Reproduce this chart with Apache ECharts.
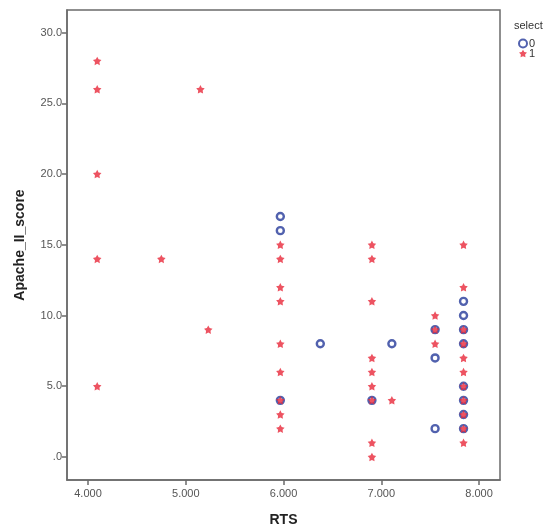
<!DOCTYPE html>
<html>
<head>
<meta charset="utf-8">
<script src="https://cdn.jsdelivr.net/npm/echarts@6/dist/echarts.min.js"></script>
<style>
  html, body { margin: 0; padding: 0; background: #fff; }
  #chart { width: 547px; height: 529px; }
</style>
</head>
<body>
<div id="chart"></div>
<script>
// select = 0 : [RTS, Apache_II_score]
const select0 = [
  [5.967, 17], [5.967, 16], [5.967, 4], [6.376, 8], [6.904, 4], [7.108, 8],
  [7.55, 9], [7.55, 7], [7.55, 2],
  [7.841, 11], [7.841, 10], [7.841, 9], [7.841, 8], [7.841, 5], [7.841, 4], [7.841, 3], [7.841, 2]
];
// select = 1
const select1 = [
  [4.094, 28], [4.094, 26], [4.094, 20], [4.094, 14], [4.094, 5],
  [4.75, 14], [5.15, 26], [5.23, 9],
  [5.967, 15], [5.967, 14], [5.967, 12], [5.967, 11], [5.967, 8], [5.967, 6], [5.967, 4], [5.967, 3], [5.967, 2],
  [6.904, 15], [6.904, 14], [6.904, 11], [6.904, 7], [6.904, 6], [6.904, 5], [6.904, 4], [6.904, 1], [6.904, 0],
  [7.108, 4],
  [7.55, 10], [7.55, 9], [7.55, 8],
  [7.841, 15], [7.841, 12], [7.841, 9], [7.841, 8], [7.841, 7], [7.841, 6], [7.841, 5], [7.841, 4], [7.841, 3], [7.841, 2], [7.841, 1]
];
const xTicks = [4, 5, 6, 7, 8];
const yTicks = [0, 5, 10, 15, 20, 25, 30];

// fat SPSS-like star
const star = 'path://M0,-10 L3.1,-4.3 L9.51,-3.09 L5.0,1.6 L5.88,8.09 L0,5.3 L-5.88,8.09 L-5.0,1.6 L-9.51,-3.09 L-3.1,-4.3 Z';
const blue = '#25399A';
const red = '#E8283A';
const axisCol = '#6b6b6b';
const font = 'Liberation Sans, Arial, sans-serif';

const chart = echarts.init(document.getElementById('chart'));
chart.setOption({
  backgroundColor: '#fff',
  animation: false,
  title: {
    text: 'select', left: 509, top: 15,
    textStyle: { fontSize: 11, fontWeight: 'normal', color: '#333', fontFamily: font }
  },
  legend: {
    data: ['0', '1'], orient: 'vertical', left: 513, top: 33,
    itemWidth: 8, itemHeight: 8, itemGap: -1,
    textStyle: { fontSize: 11, color: '#333', fontFamily: font, padding: [0, 0, 0, -3] }
  },
  grid: {
    left: 67, right: 47, top: 10, bottom: 49,
    outerBoundsMode: 'none', containLabel: false,
    show: true, borderColor: axisCol, borderWidth: 1.5, backgroundColor: '#fff'
  },
  xAxis: {
    type: 'value', min: 3.785, max: 8.214,
    name: 'RTS', nameLocation: 'middle', nameGap: 33,
    nameTextStyle: { fontSize: 14, fontWeight: 'bold', color: '#222', fontFamily: font },
    axisLine: { onZero: false, lineStyle: { color: axisCol, width: 1.5 } },
    axisTick: { show: true, length: 5, customValues: xTicks, lineStyle: { color: axisCol, width: 1.5 } },
    axisLabel: {
      customValues: xTicks, margin: 8, color: '#555', fontSize: 11, fontFamily: font,
      formatter: v => v.toFixed(3)
    },
    splitLine: { show: false }
  },
  yAxis: {
    type: 'value', min: -1.63, max: 31.6,
    name: 'Apache_II_score', nameLocation: 'middle', nameGap: 40,
    nameTextStyle: { fontSize: 14, fontWeight: 'bold', color: '#222', fontFamily: font },
    axisLine: { lineStyle: { color: axisCol, width: 1.5 } },
    axisTick: { show: true, length: 5, customValues: yTicks, lineStyle: { color: axisCol, width: 1.5 } },
    axisLabel: {
      customValues: yTicks, margin: 5, color: '#555', fontSize: 11, fontFamily: font,
      formatter: v => (v === 0 ? '.0' : v.toFixed(1))
    },
    splitLine: { show: false }
  },
  series: [
    {
      name: '0', type: 'scatter', data: select0,
      symbol: 'circle', symbolSize: 7,
      itemStyle: { color: '#fff', borderColor: blue, borderWidth: 2.4 }
    },
    {
      name: '1', type: 'scatter', data: select1,
      symbol: star, symbolSize: 8.5,
      itemStyle: { color: red }
    }
  ]
});
</script>
</body>
</html>
